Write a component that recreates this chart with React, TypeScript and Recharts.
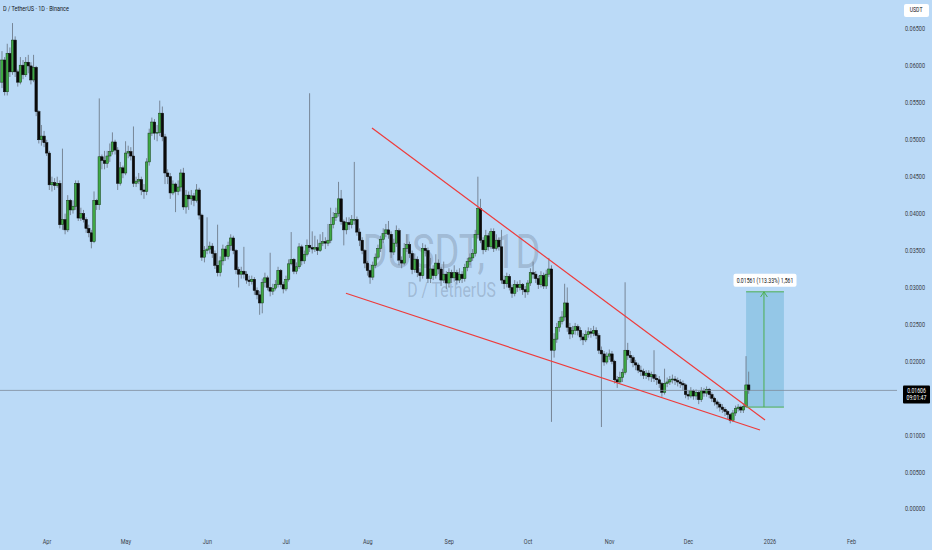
import React from 'react';
import { ComposedChart, Bar, XAxis, YAxis, ReferenceLine, ReferenceArea } from 'recharts';

// daily candles, prices in units of 0.0001 USDT, open = previous close
const FIRST_DAY = -17; // days relative to Apr 1
const FIRST_OPEN = 578;

const closes = [
  608, 565, 617, 592, 635, 592, 578, 601, 588, 605, 600, 581, 598, 538, 500, 505, 496, 482, 439, 442,
  438, 441, 385, 392, 378, 418, 405, 410, 441, 394, 400, 392, 380, 374, 362, 418, 412, 477, 472, 468,
  478, 484, 497, 486, 441, 462, 455, 482, 484, 478, 441, 444, 446, 432, 430, 470, 509, 524, 509, 510,
  536, 504, 455, 450, 428, 440,
  430, 436, 455, 409, 425, 420, 424, 418, 432, 398, 341, 350, 352, 356, 346, 330, 320, 336, 352, 342,
  357, 367, 350, 324, 318, 322, 318, 310, 308, 311, 296, 290, 279, 307, 313, 300, 295, 299, 304, 323,
  304, 298, 311, 332, 338, 322, 328, 355, 336, 345, 357, 354, 352, 354, 350, 360, 362, 360, 364, 385,
  395, 400, 420, 389, 378, 388, 385, 392, 392, 375, 364, 350, 333, 323, 314, 330, 341, 353, 365, 373,
  378, 372, 348, 360, 377, 337, 333, 353, 358, 346, 324, 338, 320, 316, 353, 350, 312, 325, 316, 333,
  325, 310, 318, 306, 320, 313, 320, 310, 318, 312, 327, 335, 340, 346, 372, 407, 364, 351, 370, 355,
  376, 353,
  364, 355, 310, 305, 315, 300, 292, 304, 300, 304, 297, 294, 306, 320, 318, 312, 304, 316, 302, 318,
  325, 215, 230, 246, 254, 260, 279, 246, 237, 242, 247, 242, 233, 229, 236, 240, 238, 242, 235, 215,
  210, 199, 207, 210, 200, 175, 172,
  178, 185, 215, 208, 205, 198, 195, 188, 186, 181, 184, 179, 182, 177, 175, 170, 158, 170, 172, 175,
  176, 174, 172, 170, 168, 155, 153, 160, 153, 158, 148, 160, 157, 162, 155, 150, 145, 142, 138, 135,
  132, 128, 120, 130, 136, 138, 134, 139, 168, 160.6,
];

const highs = [
  620, 612, 630, 625, 658, 640, 595, 612, 608, 612, 615, 605, 615, 600, 540, 520, 512, 500, 485, 450,
  448, 450, 445, 488, 400, 425, 420, 418, 445, 445, 408, 405, 395, 385, 378, 430, 420, 556, 480, 485,
  485, 495, 510, 500, 490, 470, 465, 498, 492, 490, 518, 450, 455, 450, 440, 475, 515, 530, 528, 520,
  553, 545, 508, 460, 455, 445,
  442, 445, 460, 462, 432, 430, 432, 428, 440, 435, 400, 356, 395, 362, 360, 350, 385, 342, 358, 356,
  362, 372, 370, 352, 328, 328, 355, 322, 316, 316, 314, 300, 295, 312, 320, 316, 347, 305, 310, 328,
  325, 308, 316, 338, 375, 340, 334, 360, 358, 350, 365, 563, 376, 370, 365, 372, 375, 368, 386, 408,
  402, 408, 443, 432, 392, 395, 395, 398, 470, 396, 380, 368, 352, 336, 326, 335, 346, 358, 370, 380,
  386, 390, 376, 366, 384, 380, 342, 360, 372, 362, 350, 346, 342, 326, 360, 358, 354, 340, 330, 345,
  338, 328, 335, 322, 326, 324, 330, 324, 326, 322, 332, 340, 346, 352, 378, 450, 420, 368, 378, 374,
  380, 380,
  372, 368, 378, 316, 320, 318, 304, 310, 308, 310, 306, 302, 310, 326, 335, 322, 316, 322, 320, 324,
  340, 330, 238, 252, 260, 268, 305, 300, 252, 248, 252, 250, 246, 238, 242, 246, 245, 248, 246, 238,
  220, 214, 212, 216, 214, 202, 180,
  186, 190, 307, 225, 214, 208, 202, 198, 194, 190, 188, 188, 186, 215, 182, 180, 172, 190, 178, 180,
  182, 180, 178, 176, 174, 170, 160, 165, 162, 162, 160, 165, 164, 166, 164, 158, 152, 148, 145, 142,
  138, 134, 130, 134, 140, 142, 140, 143, 207, 186,
];

const lows = [
  570, 560, 560, 585, 588, 585, 572, 575, 582, 585, 590, 575, 578, 532, 495, 492, 490, 478, 432, 430,
  432, 435, 380, 378, 372, 375, 398, 400, 405, 390, 390, 388, 374, 368, 353, 360, 405, 405, 460, 460,
  462, 470, 480, 480, 432, 438, 448, 452, 475, 472, 436, 436, 440, 425, 420, 425, 465, 505, 500, 498,
  505, 498, 440, 440, 420, 425,
  402, 425, 430, 405, 400, 405, 412, 410, 415, 392, 336, 334, 345, 346, 340, 325, 315, 315, 330, 336,
  338, 350, 345, 318, 300, 312, 312, 305, 302, 304, 290, 284, 263, 265, 300, 296, 288, 290, 296, 300,
  300, 292, 295, 308, 330, 318, 318, 325, 330, 332, 342, 348, 346, 348, 344, 348, 356, 352, 356, 360,
  380, 390, 396, 385, 357, 372, 378, 380, 385, 370, 356, 345, 326, 316, 305, 310, 326, 338, 348, 360,
  368, 366, 340, 344, 355, 330, 326, 330, 348, 340, 318, 320, 314, 308, 312, 342, 306, 306, 310, 312,
  318, 302, 306, 298, 300, 306, 308, 304, 306, 306, 308, 322, 330, 336, 342, 366, 360, 345, 348, 350,
  352, 348,
  350, 350, 305, 298, 300, 296, 286, 288, 294, 296, 290, 286, 290, 302, 312, 306, 298, 300, 298, 298,
  314, 118, 205, 225, 240, 250, 255, 240, 230, 232, 236, 235, 228, 222, 226, 232, 232, 234, 230, 210,
  111, 194, 196, 202, 196, 170, 164,
  170, 172, 182, 202, 198, 192, 188, 184, 180, 176, 176, 174, 172, 172, 168, 164, 152, 155, 165, 168,
  170, 168, 166, 164, 160, 150, 148, 150, 148, 148, 142, 145, 152, 152, 150, 145, 140, 136, 132, 130,
  126, 122, 116, 118, 126, 132, 130, 130, 137, 156,
];

const monthDays = [0, 30, 61, 91, 122, 153, 183, 214, 244, 275, 306];
const monthLabels = ['Apr', 'May', 'Jun', 'Jul', 'Aug', 'Sep', 'Oct', 'Nov', 'Dec', '2026', 'Feb'];
const priceTicks = [0, 0.005, 0.01, 0.02, 0.025, 0.03, 0.035, 0.04, 0.045, 0.05, 0.055, 0.06, 0.065];

const LAST_PRICE = 0.01606;
const COUNTDOWN = '09:01:47';

// drawings (day, price)
const upperTrend = [{ x: 123.6, y: 0.05159 }, { x: 273.1, y: 0.01205 }];
const lowerTrend = [{ x: 113.7, y: 0.02921 }, { x: 271.2, y: 0.0107 }];
const rangeDays = [265.9, 280.3];
const rangePrices = [0.0138, 0.02941];
const rangeMid = 272.7;
const rangeText = '0.01561 (113.33%) 1,561';

const rows = closes.map((c, i) => {
  const o = i === 0 ? FIRST_OPEN : closes[i - 1];
  const h = highs[i];
  const l = lows[i];
  return {
    day: FIRST_DAY + i,
    o: o / 10000,
    c: c / 10000,
    h: h / 10000,
    l: l / 10000,
    range: [l / 10000, h / 10000],
  };
});

const BG = '#bbdaf7';
const UP = '#3fa845';
const UP_EDGE = '#163d18';
const DOWN = '#0b0b0b';
const WICK = '#6f7d8c';
const TEXT = '#3b3f4a';
const RED = '#ee3b3b';
const GREEN = '#4caf50';
const SQ = 0.79; // horizontal squeeze of the screenshot text

const Candle = (props: any) => {
  const { x, y, width, height, payload } = props;
  if (x == null || y == null || !payload) return null;
  const cx = x + width / 2;
  const top = Math.min(y, y + height);
  const bot = Math.max(y, y + height);
  const span = payload.h - payload.l;
  const py = (v: number) => (span > 0 ? top + ((payload.h - v) / span) * (bot - top) : top);
  const yo = py(payload.o);
  const yc = py(payload.c);
  const up = payload.c >= payload.o;
  const bTop = Math.min(yo, yc);
  const bH = Math.max(Math.abs(yc - yo), 0.8);
  return (
    <g>
      <line x1={cx} x2={cx} y1={top} y2={bot} stroke={WICK} strokeWidth={0.9} />
      <rect x={cx - 1.25} y={bTop} width={2.5} height={bH} fill={up ? UP : DOWN} stroke={up ? UP_EDGE : DOWN} strokeWidth={0.5} />
    </g>
  );
};

const squeeze = (x: number) => `translate(${x} 0) scale(${SQ} 1) translate(${-x} 0)`;

const PriceTick = (p: any) => (
  <text x={p.x} y={p.y} dy="0.35em" fontSize={7} fill={TEXT} textAnchor="start" transform={squeeze(p.x)}>
    {Number(p.payload.value).toFixed(5)}
  </text>
);

const DateTick = (p: any) => {
  const idx = monthDays.indexOf(p.payload.value);
  return (
    <text x={p.x} y={p.y} dy="0.71em" fontSize={7} fill={TEXT} textAnchor="middle" transform={squeeze(p.x)}>
      {idx >= 0 ? monthLabels[idx] : ''}
    </text>
  );
};

const PriceTag = (props: any) => {
  const vb = props.viewBox;
  if (!vb) return null;
  const x = vb.x + vb.width + 6;
  const y = vb.y;
  return (
    <g>
      <rect x={x} y={y - 5} width={27} height={18} rx={1} fill="#000" />
      <text x={x + 13.5} y={y} dy="0.35em" fontSize={6.5} fill="#fff" textAnchor="middle" transform={squeeze(x + 13.5)}>
        {LAST_PRICE.toFixed(5)}
      </text>
      <text x={x + 13.5} y={y + 7.5} dy="0.35em" fontSize={6.5} fill="#fff" textAnchor="middle" transform={squeeze(x + 13.5)}>
        {COUNTDOWN}
      </text>
    </g>
  );
};

const RangeLabel = (props: any) => {
  const vb = props.viewBox;
  if (!vb) return null;
  const cx = vb.x + vb.width / 2;
  return (
    <g>
      <rect x={cx - 31.5} y={vb.y - 18} width={63} height={13} rx={2} fill="#fff" />
      <text x={cx} y={vb.y - 11.5} dy="0.35em" fontSize={6.5} fill="#131722" textAnchor="middle" transform={squeeze(cx)}>
        {rangeText}
      </text>
    </g>
  );
};

export default function App() {
  return (
    <div style={{ position: 'relative', width: 932, height: 550, background: BG, overflow: 'hidden', fontFamily: 'Roboto, sans-serif' }}>
      <style>{'body{margin:0}'}</style>
      <div style={{ position: 'absolute', left: 3, top: 228, width: 897, textAlign: 'center', fontSize: 48, lineHeight: 1, color: 'rgba(95,108,130,0.3)', transform: `scaleX(${SQ})` }}>
        DUSDT, 1D
      </div>
      <div style={{ position: 'absolute', left: 3, top: 280, width: 897, textAlign: 'center', fontSize: 20, lineHeight: 1, color: 'rgba(95,108,130,0.3)', transform: `scaleX(${SQ})` }}>
        D / TetherUS
      </div>
      <div style={{ position: 'absolute', left: 3, top: 6, fontSize: 7, lineHeight: 1, color: '#131722', transform: `scaleX(${SQ})`, transformOrigin: 'left top', whiteSpace: 'nowrap' }}>
        D / TetherUS · 1D · Binance
      </div>
      <div style={{ position: 'absolute', left: 904, top: 4, width: 25, height: 13, background: '#fff', borderRadius: 2, fontSize: 6.5, lineHeight: '13px', textAlign: 'center', color: '#131722' }}>
        <span style={{ display: 'inline-block', transform: `scaleX(${SQ})` }}>USDT</span>
      </div>
      <div style={{ position: 'absolute', left: 0, top: 0 }}>
        <ComposedChart width={932} height={550} data={rows} margin={{ top: 0, right: 0, bottom: 0, left: 0 }}>
          <XAxis
            dataKey="day"
            type="number"
            domain={[-17.88, 323.3]}
            allowDataOverflow
            ticks={monthDays}
            interval={0}
            axisLine={false}
            tickLine={false}
            tickMargin={5}
            height={22}
            tick={DateTick}
          />
          <YAxis
            orientation="right"
            type="number"
            domain={[-0.002573, 0.068927]}
            allowDataOverflow
            ticks={priceTicks}
            interval={0}
            axisLine={false}
            tickLine={false}
            width={35}
            tick={PriceTick}
          />
          <ReferenceArea
            x1={rangeDays[0]}
            x2={rangeDays[1]}
            y1={rangePrices[0]}
            y2={rangePrices[1]}
            fill="#3d9ac4"
            fillOpacity={0.3}
            stroke="none"
            label={RangeLabel}
          />
          <ReferenceLine y={LAST_PRICE} stroke="#7f8c9a" strokeWidth={0.8} label={PriceTag} />
          <Bar dataKey="range" shape={Candle} barSize={2} isAnimationActive={false} />
          <ReferenceLine segment={upperTrend} stroke={RED} strokeWidth={1.2} />
          <ReferenceLine segment={lowerTrend} stroke={RED} strokeWidth={1.2} />
          <ReferenceLine segment={[{ x: rangeDays[0], y: rangePrices[1] }, { x: rangeDays[1], y: rangePrices[1] }]} stroke={GREEN} strokeWidth={1} />
          <ReferenceLine segment={[{ x: rangeDays[0], y: rangePrices[0] }, { x: rangeDays[1], y: rangePrices[0] }]} stroke={GREEN} strokeWidth={1} />
          <ReferenceLine segment={[{ x: rangeMid, y: rangePrices[0] }, { x: rangeMid, y: rangePrices[1] }]} stroke={GREEN} strokeWidth={1} />
          <ReferenceLine segment={[{ x: rangeMid - 1.3, y: rangePrices[1] - 0.0007 }, { x: rangeMid, y: rangePrices[1] }]} stroke={GREEN} strokeWidth={1} />
          <ReferenceLine segment={[{ x: rangeMid + 1.3, y: rangePrices[1] - 0.0007 }, { x: rangeMid, y: rangePrices[1] }]} stroke={GREEN} strokeWidth={1} />
        </ComposedChart>
      </div>
    </div>
  );
}
